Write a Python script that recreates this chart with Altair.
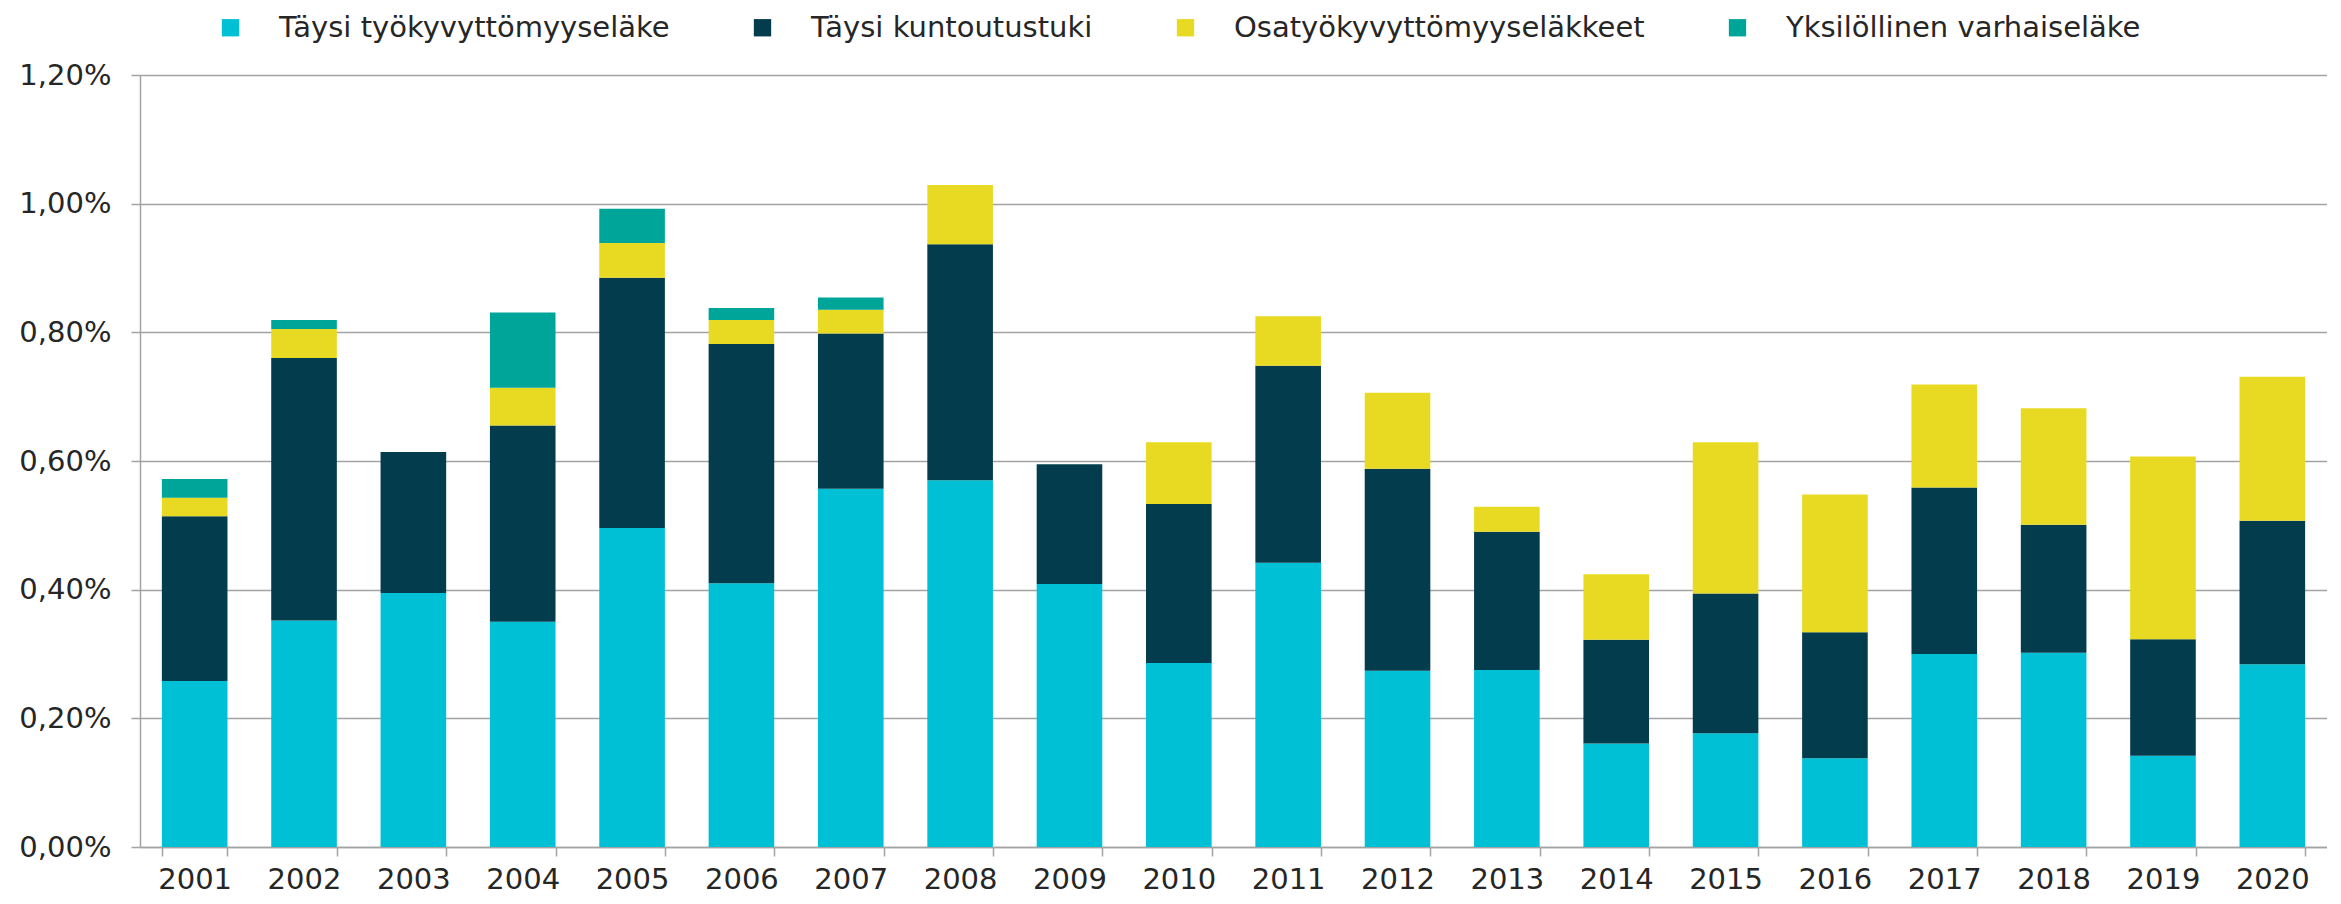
import altair as alt
import pandas as pd

years = ["2001", "2002", "2003", "2004", "2005", "2006", "2007", "2008", "2009", "2010",
         "2011", "2012", "2013", "2014", "2015", "2016", "2017", "2018", "2019", "2020"]

series = ["Täysi työkyvyttömyyseläke", "Täysi kuntoutustuki",
          "Osatyökyvyttömyyseläkkeet", "Yksilöllinen varhaiseläke"]
colors = ["#00C0D5", "#033C4C", "#E8DA22", "#00A599"]

tayst_tyokyvyttomyys = [0.258, 0.352, 0.395, 0.350, 0.496, 0.410, 0.557, 0.570, 0.409, 0.286,
                        0.442, 0.274, 0.275, 0.161, 0.177, 0.138, 0.300, 0.302, 0.142, 0.284]
taysi_kuntoutustuki = [0.256, 0.408, 0.219, 0.305, 0.389, 0.372, 0.241, 0.367, 0.186, 0.247,
                       0.306, 0.314, 0.215, 0.161, 0.217, 0.196, 0.259, 0.199, 0.181, 0.223]
osatyokyvyttomyys = [0.029, 0.045, 0.000, 0.059, 0.054, 0.037, 0.037, 0.092, 0.000, 0.096,
                     0.077, 0.118, 0.039, 0.102, 0.235, 0.214, 0.160, 0.181, 0.284, 0.224]
yksilollinen = [0.029, 0.014, 0.000, 0.117, 0.053, 0.019, 0.019, 0.000, 0.000, 0.000,
                0.000, 0.000, 0.000, 0.000, 0.000, 0.000, 0.000, 0.000, 0.000, 0.000]

y_ticks = [0.0, 0.2, 0.4, 0.6, 0.8, 1.0, 1.2]

rows = []
for k, vals in enumerate([tayst_tyokyvyttomyys, taysi_kuntoutustuki, osatyokyvyttomyys, yksilollinen]):
    for yr, v in zip(years, vals):
        rows.append({"Vuosi": yr, "Sarja": series[k], "Jarjestys": k, "Arvo": v})
df = pd.DataFrame(rows)

FONT = "DejaVu Sans"
TEXT = "#262626"
GRID = "#A3A3A3"

chart = alt.Chart(df).mark_bar().encode(
    x=alt.X("Vuosi:N", sort=years,
            scale=alt.Scale(paddingInner=0.4, paddingOuter=0.2),
            axis=alt.Axis(title=None, labelAngle=0, tickBand="extent", tickSize=9,
                          tickColor=GRID, tickWidth=1.5, domainColor=GRID, domainWidth=1.5,
                          labelFont=FONT, labelFontSize=29, labelColor=TEXT,
                          labelPadding=9, labelOverlap=False, grid=False)),
    y=alt.Y("Arvo:Q", stack="zero",
            scale=alt.Scale(domain=[0, 1.2], nice=False, zero=True),
            axis=alt.Axis(title=None, values=y_ticks,
                          labelExpr="replace(format(datum.value, '.2f'), '.', ',') + '%'",
                          tickSize=9, tickColor=GRID, tickWidth=1.5,
                          domainColor=GRID, domainWidth=1.5,
                          grid=True, gridColor=GRID, gridWidth=1.5,
                          labelFont=FONT, labelFontSize=29, labelColor=TEXT,
                          labelPadding=20)),
    color=alt.Color("Sarja:N",
                    scale=alt.Scale(domain=series, range=colors),
                    legend=alt.Legend(title=None, orient="none", legendX=76, legendY=-62,
                                      direction="horizontal", columns=4,
                                      symbolType="square", symbolSize=300,
                                      symbolStrokeWidth=0, labelFont=FONT,
                                      labelFontSize=29, labelColor=TEXT,
                                      labelOffset=34, columnPadding=78,
                                      labelLimit=1000)),
    order=alt.Order("Jarjestys:Q", sort="ascending"),
).properties(
    width=2187,
    height=772,
    autosize=alt.AutoSizeParams(type="none"),
    padding={"left": 132, "top": 67, "right": 0, "bottom": 49},
).configure_view(stroke=None)

chart.save("out.html", embed_options={"renderer": "svg", "actions": False})
